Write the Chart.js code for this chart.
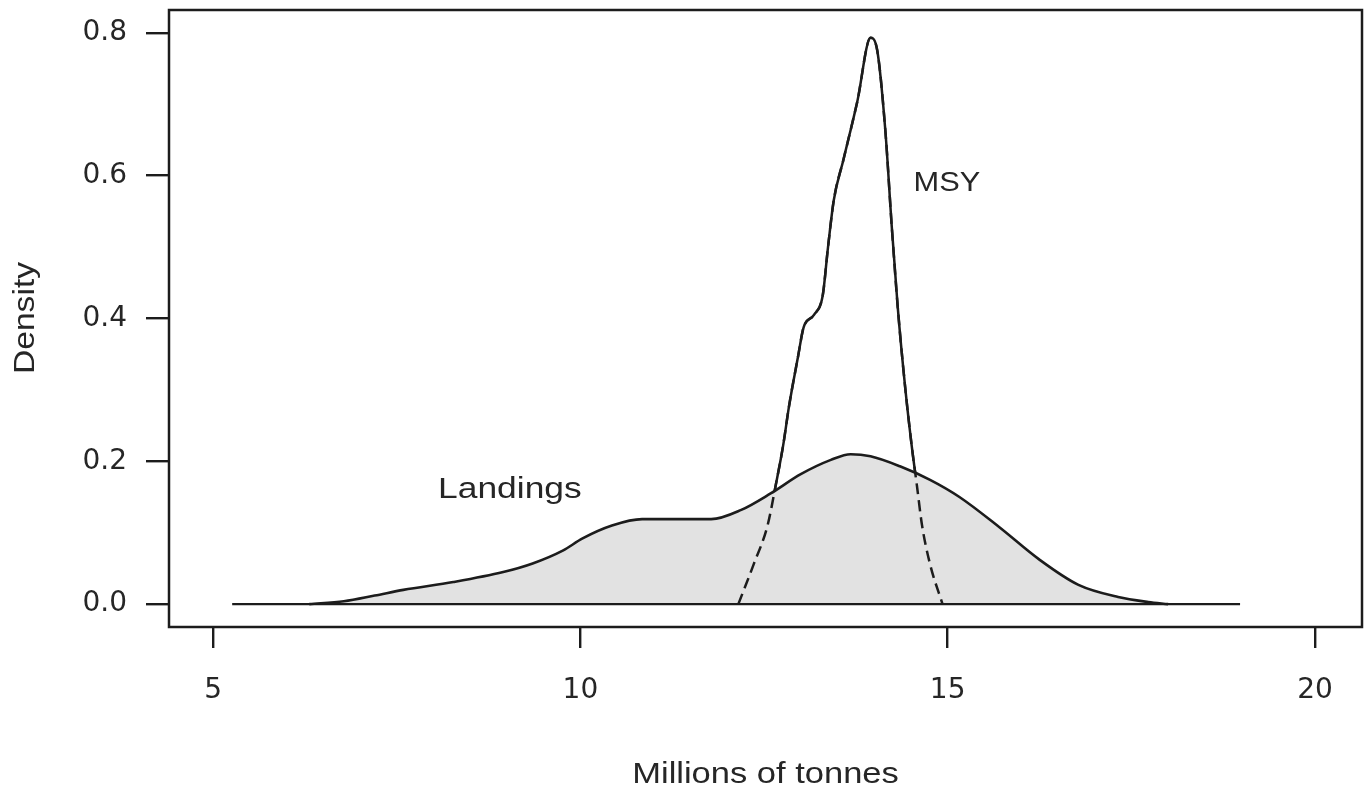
<!DOCTYPE html>
<html>
<head>
<meta charset="utf-8">
<script src="https://cdn.jsdelivr.net/npm/chart.js@4/dist/chart.umd.min.js"></script>
<style>
  html, body { margin: 0; padding: 0; background: #ffffff; }
  #wrap { width: 1367px; height: 792px; }
</style>
</head>
<body>
<div id="wrap"><canvas id="density" width="1367" height="792"></canvas></div>
<script>
// Kernel density of landings (millions of tonnes)
const landingsX = [6.31, 6.78, 7.2, 7.59, 8.27, 8.95, 9.35, 9.76, 10.03, 10.43, 10.84, 11.11, 11.78, 12.19, 12.59, 13.0, 13.41, 13.68, 13.95, 14.35, 14.76, 15.16, 15.70, 16.24, 16.78, 17.32, 17.73, 18.0];
const landingsY = [0.0, 0.004, 0.012, 0.02, 0.031, 0.045, 0.057, 0.075, 0.092, 0.110, 0.119, 0.119, 0.119, 0.132, 0.155, 0.182, 0.202, 0.210, 0.207, 0.193, 0.174, 0.150, 0.108, 0.063, 0.027, 0.010, 0.003, 0.0];

// Kernel density of MSY estimates
const msyX = [12.15, 12.36, 12.55, 12.66, 12.76, 12.84, 12.96, 13.04, 13.18, 13.30, 13.37, 13.45, 13.58, 13.77, 13.95, 14.04, 14.15, 14.24, 14.32, 14.42, 14.51, 14.58, 14.65, 14.76, 14.93];
const msyY = [0, 0.056, 0.111, 0.167, 0.222, 0.277, 0.345, 0.388, 0.405, 0.433, 0.499, 0.566, 0.622, 0.704, 0.793, 0.776, 0.665, 0.527, 0.416, 0.305, 0.222, 0.167, 0.111, 0.056, 0];

// Zero line under both densities
const baseX = [5.26, 18.98];
const baseY = [0, 0];

// Axis ticks
const xTicks = [5, 10, 15, 20];
const yTicks = [0, 0.2, 0.4, 0.6, 0.8];

// Curve annotations
const curveLabels = ["Landings", "MSY"];
const curveLabelX = [9.04, 14.99];
const curveLabelY = [0.16, 0.59];

const xTitle = "Millions of tonnes";
const yTitle = "Density";

const toPoints = (xs, ys) => xs.map((x, i) => ({ x: x, y: ys[i] }));

const INK = '#1c1c1c';
const TEXT = '#262626';
const FONT = "'Liberation Sans', Arial, sans-serif";
const TICK_FONT = "'DejaVu Sans', 'Liberation Sans', sans-serif";

function drawStretched(ctx, text, cx, cy, size, sx, rot) {
  ctx.save();
  ctx.translate(cx, cy);
  if (rot) ctx.rotate(rot);
  ctx.scale(sx, 1);
  ctx.font = size + 'px ' + FONT;
  ctx.fillStyle = TEXT;
  ctx.textAlign = 'center';
  ctx.textBaseline = 'middle';
  ctx.fillText(text, 0, 0);
  ctx.restore();
}

const framePlugin = {
  id: 'frameAndText',
  afterDraw(chart) {
    const ctx = chart.ctx;
    const a = chart.chartArea;
    const xs = chart.scales.x, ys = chart.scales.y;
    ctx.save();
    ctx.strokeStyle = INK;
    ctx.lineWidth = 2.5;
    ctx.strokeRect(a.left, a.top, a.right - a.left, a.bottom - a.top);
    ctx.restore();
    drawStretched(ctx, curveLabels[0], xs.getPixelForValue(curveLabelX[0]), ys.getPixelForValue(curveLabelY[0]), 30, 1.18, 0);
    drawStretched(ctx, curveLabels[1], xs.getPixelForValue(curveLabelX[1]), ys.getPixelForValue(curveLabelY[1]), 28, 1.1, 0);
    drawStretched(ctx, xTitle, (a.left + a.right) / 2, 775, 30, 1.15, 0);
    drawStretched(ctx, yTitle, 26, 318, 30, 1.12, -Math.PI / 2);
  }
};

new Chart(document.getElementById('density'), {
  type: 'scatter',
  data: {
    datasets: [
      {
        label: 'MSY (solid)',
        data: toPoints(msyX, msyY),
        showLine: true,
        borderColor: INK,
        borderWidth: 2.5,
        pointRadius: 0,
        cubicInterpolationMode: 'monotone',
        fill: false,
        order: 3
      },
      {
        label: 'Landings',
        data: toPoints(landingsX, landingsY),
        showLine: true,
        borderColor: INK,
        borderWidth: 2.6,
        backgroundColor: '#e2e2e2',
        pointRadius: 0,
        cubicInterpolationMode: 'monotone',
        fill: 'origin',
        order: 2
      },
      {
        label: 'Zero line',
        data: toPoints(baseX, baseY),
        showLine: true,
        borderColor: INK,
        borderWidth: 2.4,
        pointRadius: 0,
        fill: false,
        order: 1
      },
      {
        label: 'MSY',
        data: toPoints(msyX, msyY),
        showLine: true,
        borderColor: INK,
        borderWidth: 2.5,
        borderDash: [11, 6],
        pointRadius: 0,
        cubicInterpolationMode: 'monotone',
        fill: false,
        order: 0
      }
    ]
  },
  options: {
    responsive: false,
    animation: false,
    events: [],
    layout: { padding: { left: 0, top: 10, right: 5, bottom: 0 } },
    plugins: {
      legend: { display: false },
      tooltip: { enabled: false },
      title: { display: false }
    },
    scales: {
      x: {
        type: 'linear',
        min: 4.40,
        max: 20.64,
        afterBuildTicks: (s) => { s.ticks = xTicks.map(v => ({ value: v })); },
        afterFit: (s) => { s.height = 165; s.paddingLeft = 0; s.paddingRight = 0; },
        grid: { drawOnChartArea: false, drawTicks: true, tickLength: 21, color: INK, lineWidth: 2.4 },
        border: { display: false },
        ticks: {
          color: TEXT,
          padding: 26,
          maxRotation: 0,
          font: { family: TICK_FONT, size: 28 },
          callback: (v) => String(v)
        }
      },
      y: {
        type: 'linear',
        min: -0.032,
        max: 0.832,
        afterBuildTicks: (s) => { s.ticks = yTicks.map(v => ({ value: v })); },
        afterFit: (s) => { s.width = 169; s.paddingTop = 0; s.paddingBottom = 0; },
        grid: { drawOnChartArea: false, drawTicks: true, tickLength: 23, color: INK, lineWidth: 2.4 },
        border: { display: false },
        ticks: {
          color: TEXT,
          padding: 19,
          font: { family: TICK_FONT, size: 28 },
          callback: (v) => Number(v).toFixed(1)
        }
      }
    }
  },
  plugins: [framePlugin]
});
</script>
</body>
</html>
